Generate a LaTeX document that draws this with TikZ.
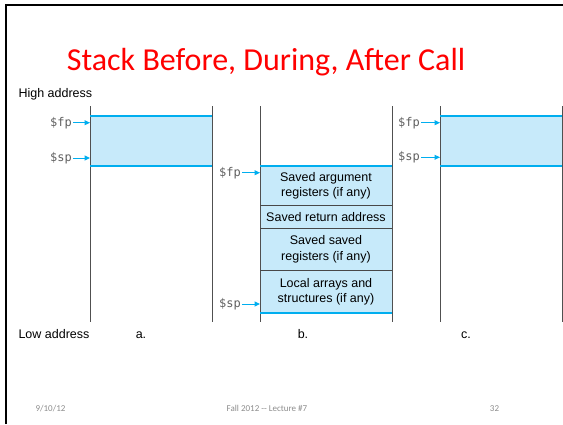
\documentclass[tikz,border=0pt]{standalone}
\usepackage{fontspec}
\setmainfont{Liberation Sans}
\newfontfamily\slidefont{Carlito}
\newfontfamily\regfont{DejaVu Sans Mono}
\usepackage{xcolor}
\usetikzlibrary{positioning}
\usetikzlibrary{arrows.meta}
\definecolor{stackcyan}{RGB}{0,174,239}
\definecolor{stackfill}{RGB}{199,234,250}
\definecolor{wallgray}{RGB}{80,80,80}
\definecolor{regtext}{RGB}{95,95,95}
\definecolor{footgray}{RGB}{140,140,140}

\begin{document}
\begin{tikzpicture}[x=1pt, y=-1pt,
		slot/.style={rectangle, fill=stackfill, inner sep=0pt, outer sep=0pt,
			minimum width=132pt, align=center, font=\fontsize{12.5}{15.5}\selectfont},
		wall/.style={draw=wallgray, line width=1pt},
		stackedge/.style={draw=stackcyan, line width=2pt},
		divider/.style={draw=wallgray!90!black, line width=0.8pt},
		reg/.style={anchor=east, inner sep=1pt, text=regtext, font=\regfont\fontsize{12}{14}\selectfont},
		ptr/.style={draw=stackcyan, line width=1pt, -{Triangle[length=5.5pt,width=5pt]}},
		caption/.style={anchor=base, font=\fontsize{12.5}{15}\selectfont},
		foot/.style={anchor=base, text=footgray, font=\slidefont\fontsize{9}{11}\selectfont}
		]
	\useasboundingbox (0,0) rectangle (563,424);
	
	% --- cadre de la diapo ---
	\draw[line width=2pt] (5.5,424) -- (5.5,4.5) -- (563,4.5);
	\node[anchor=base, text=red, font=\slidefont\fontsize{32}{38}\selectfont] (title) at (266,70) {Stack Before, During, After Call};
	
	% --- pile avant l'appel (a) ---
	\node[slot, minimum width=122pt, minimum height=50pt, anchor=north west] (framea) at (90,115.7) {};
	
	% --- pile pendant l'appel (b) ---
	\node[slot, minimum height=40pt, anchor=north west] (argbox) at (260,165.7) {Saved argument\\registers (if any)};
	\node[slot, minimum height=22.6pt, below=0pt of argbox] (retbox) {Saved return address};
	\node[slot, minimum height=42.4pt, below=0pt of retbox] (savedbox) {Saved saved\\registers (if any)};
	\node[slot, minimum height=42pt, below=0pt of savedbox] (localbox) {Local arrays and\\structures (if any)};
	
	% --- pile après l'appel (c) ---
	\node[slot, minimum width=122pt, minimum height=50pt, anchor=north west] (framec) at (440,115.7) {};
	
	% --- murs verticaux ---
	\foreach \x in {90, 212, 260, 392, 440, 562}
		\draw[wall] (\x,106) -- (\x,322);
	
	\draw[divider] (argbox.south west) -- (argbox.south east);
	\draw[divider] (retbox.south west) -- (retbox.south east);
	\draw[divider] (savedbox.south west) -- (savedbox.south east);
	
	\draw[stackedge] (framea.north west) -- (framea.north east);
	\draw[stackedge] (framea.south west) -- (framea.south east);
	\draw[stackedge] (argbox.north west) -- (argbox.north east);
	\draw[stackedge] (localbox.south west) -- (localbox.south east);
	\draw[stackedge] (framec.north west) -- (framec.north east);
	\draw[stackedge] (framec.south west) -- (framec.south east);
	
	% --- pointeurs $fp et $sp ---
	\node[reg] (fpa) at (73,122.7) {\$fp};
	\node[reg] (spa) at (73,158) {\$sp};
	\node[reg] (fpb) at (242,172.7) {\$fp};
	\node[reg] (spb) at (242,304) {\$sp};
	\node[reg] (fpc) at (421,122.7) {\$fp};
	\node[reg] (spc) at (421,157.3) {\$sp};
	
	\draw[ptr] (fpa.east) -- (fpa.east -| framea.west);
	\draw[ptr] (spa.east) -- (spa.east -| framea.west);
	\draw[ptr] (fpb.east) -- (fpb.east -| argbox.west);
	\draw[ptr] (spb.east) -- (spb.east -| localbox.west);
	\draw[ptr] (fpc.east) -- (fpc.east -| framec.west);
	\draw[ptr] (spc.east) -- (spc.east -| framec.west);
	
	% --- légendes ---
	\node[caption, anchor=base west] (high) at (15,97) {High address};
	\node[caption, anchor=base west] (low) at (15,338) {Low address};
	\node[caption] (capa) at (141,338) {a.};
	\node[caption] (capb) at (303,338) {b.};
	\node[caption] (capc) at (466,338) {c.};
	
	\node[foot] (date) at (50.5,411) {9/10/12};
	\node[foot] (course) at (267,411) {Fall 2012 -{}- Lecture \#7};
	\node[foot] (page) at (494.5,411) {32};
	
\end{tikzpicture}
\end{document}
